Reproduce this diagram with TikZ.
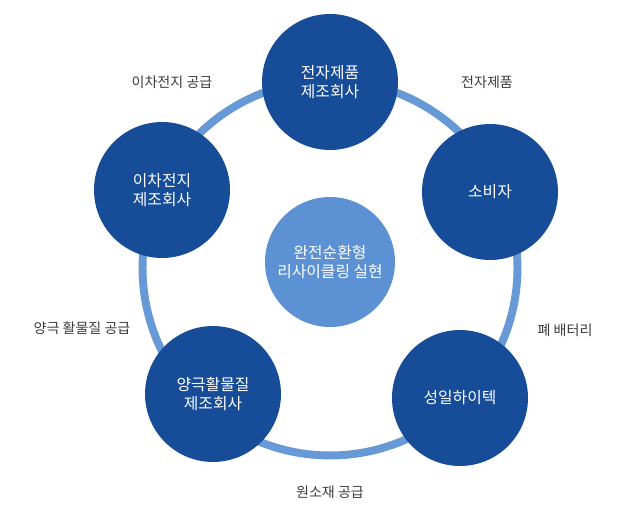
\documentclass[tikz,border=0pt]{standalone}
\usepackage{fontspec}
\newfontfamily\krfont{Noto Sans CJK KR}
\begin{document}
\begin{tikzpicture}[x=0.02cm,y=-0.02cm]
		\definecolor{ringcolor}{RGB}{102,153,214}
		\definecolor{nodecolor}{RGB}{22,76,152}
		\definecolor{centercolor}{RGB}{92,145,212}
		\definecolor{labelcolor}{RGB}{60,60,60}
		\tikzset{
			company/.style={circle,fill=nodecolor,minimum size=2.72cm,inner sep=0pt,align=center,text=white,font=\krfont\small},
			flowlabel/.style={text=labelcolor,font=\krfont\footnotesize}
		}

		\useasboundingbox (0,0) rectangle (640,510);

		\draw[ringcolor,line width=4.5pt] (330,268) circle (3.75cm);

		\node[company] (maker) at (330,82) {전자제품\\제조회사};
		\node[company] (user) at (490,192) {소비자};
		\node[company] (recycler) at (460,398) {성일하이텍};
		\node[company] (cathode) at (213,394) {양극활물질\\제조회사};
		\node[company] (battery) at (162,190) {이차전지\\제조회사};
		\node[company,fill=centercolor,minimum size=2.6cm] (core) at (330,262) {완전순환형\\리사이클링 실현};

		\node[flowlabel] (supplycell) at (172,82) {이차전지 공급};
		\node[flowlabel] (product) at (487,82) {전자제품};
		\node[flowlabel] (waste) at (565,330) {폐 배터리};
		\node[flowlabel] (material) at (330,492) {원소재 공급};
		\node[flowlabel] (supplycath) at (82,328) {양극 활물질 공급};
\end{tikzpicture}
\end{document}
